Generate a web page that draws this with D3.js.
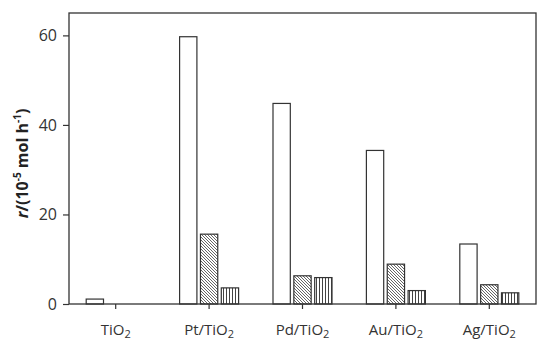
<!DOCTYPE html>
<html><head><meta charset="utf-8">
<script src="https://cdn.jsdelivr.net/npm/d3@7"></script>
<style>body{margin:0;background:#fff}svg{display:block}</style>
</head><body>
<svg id="c" width="550" height="345"></svg>
<script>
const categories = ["TiO2", "Pt/TiO2", "Pd/TiO2", "Au/TiO2", "Ag/TiO2"];
const series = ["s1", "s2", "s3"];
const s1 = [1.1, 59.7, 44.8, 34.3, 13.4];
const s2 = [0, 15.6, 6.3, 8.9, 4.3];
const s3 = [0, 3.6, 5.9, 3.0, 2.5];
const yTicks = [0, 20, 40, 60];

const svg = d3.select("#c");
const m = {l: 69, r: 14, t: 13, b: 41};
const W = 550, H = 345;
const x = d3.scaleBand().domain(categories).range([m.l, W - m.r]).paddingInner(0).paddingOuter(0);
const y = d3.scaleLinear().domain([0, 65]).range([H - m.b, m.t]);
const gap = 59;
const xs = d3.scaleBand().domain(series).range([0, gap]).paddingInner(0.17).paddingOuter(0);
const off = (x.bandwidth() - gap) / 2;

const defs = svg.append("defs");
const p1 = defs.append("pattern").attr("id", "diag").attr("patternUnits", "userSpaceOnUse")
  .attr("width", 3).attr("height", 3);
p1.append("rect").attr("width", 3).attr("height", 3).attr("fill", "#fff");
p1.append("path").attr("d", "M-1,-1 L4,4 M-1,2 L1,4 M2,-1 L4,1").attr("stroke", "#555").attr("stroke-width", 0.9);
const p2 = defs.append("pattern").attr("id", "vert").attr("patternUnits", "userSpaceOnUse")
  .attr("width", 3).attr("height", 3);
p2.append("rect").attr("width", 3).attr("height", 3).attr("fill", "#fff");
p2.append("path").attr("d", "M1.5,0 L1.5,3").attr("stroke", "#444").attr("stroke-width", 1);
const fills = {s1: "#fff", s2: "url(#diag)", s3: "url(#vert)"};

const data = [];
categories.forEach((c, i) => {
  [s1, s2, s3].forEach((arr, j) => {
    if (arr[i] > 0) data.push({c, s: series[j], v: arr[i]});
  });
});

svg.append("g").selectAll("rect").data(data).join("rect")
  .attr("x", d => x(d.c) + off + xs(d.s))
  .attr("width", xs.bandwidth())
  .attr("y", d => y(d.v))
  .attr("height", d => y(0) - y(d.v))
  .attr("fill", d => fills[d.s])
  .attr("stroke", "#333").attr("stroke-width", 1.2);

// frame
svg.append("rect").attr("x", m.l).attr("y", m.t).attr("width", W - m.r - m.l).attr("height", H - m.b - m.t)
  .attr("fill", "none").attr("stroke", "#333").attr("stroke-width", 1.3);

const font = "'Open Sans', sans-serif";
const ya = svg.append("g").attr("transform", `translate(${m.l},0)`)
  .call(d3.axisLeft(y).tickValues(yTicks).tickSize(6).tickPadding(6));
ya.select(".domain").remove();
ya.selectAll("line").attr("stroke", "#333").attr("stroke-width", 1.2);
ya.selectAll("text").attr("font-family", font).attr("font-size", 16).attr("fill", "#333");

const xa = svg.append("g").attr("transform", `translate(0,${H - m.b})`)
  .call(d3.axisBottom(x).tickSize(5).tickPadding(15));
xa.select(".domain").remove();
xa.selectAll("line").attr("stroke", "#333").attr("stroke-width", 1.2);
xa.selectAll("text").attr("font-family", font).attr("font-size", 15).attr("fill", "#333")
  .text(null)
  .each(function(d) {
    const t = d3.select(this);
    const parts = d.split("2");
    t.append("tspan").text(parts[0]);
    t.append("tspan").attr("font-size", 11).attr("dy", 3).text("2");
  });

const lab = svg.append("text").attr("transform", `translate(28,${(m.t + H - m.b) / 2 + 5}) rotate(-90)`)
  .attr("text-anchor", "middle").attr("font-family", font).attr("font-size", 16)
  .attr("font-weight", "bold").attr("fill", "#222");
lab.append("tspan").attr("font-style", "italic").text("r");
lab.append("tspan").text("/(10");
lab.append("tspan").attr("font-size", 10).attr("dy", -7).text("-5");
lab.append("tspan").attr("dy", 7).text(" mol h");
lab.append("tspan").attr("font-size", 10).attr("dy", -7).text("-1");
lab.append("tspan").attr("dy", 7).text(")");
</script>
</body></html>
